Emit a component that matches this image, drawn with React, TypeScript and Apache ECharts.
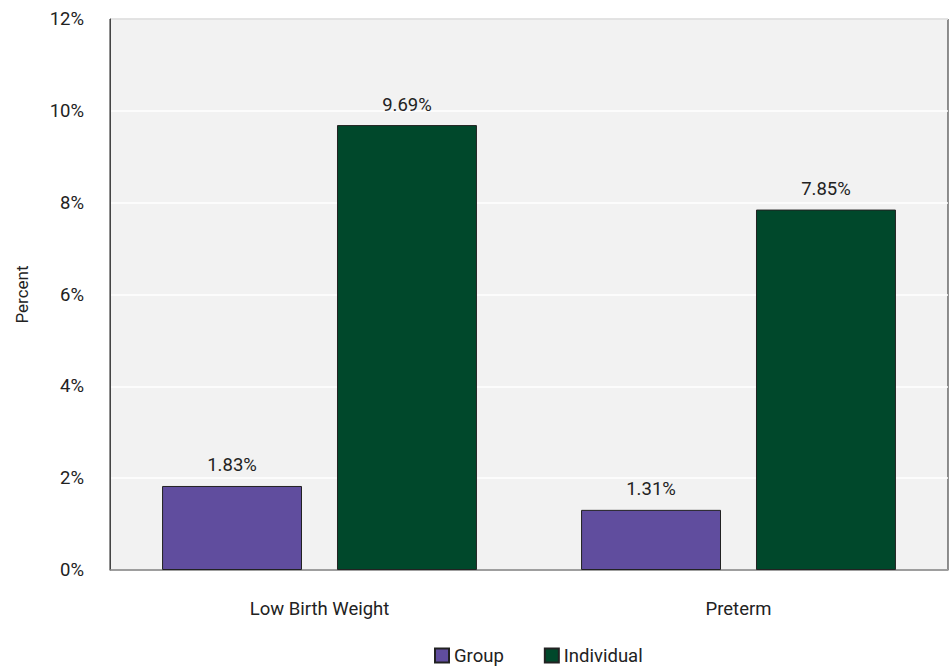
import React, { useEffect, useRef } from "react";
import * as echarts from "echarts";

const categories = ["Low Birth Weight", "Preterm"];
const groupValues = [1.83, 1.31];
const individualValues = [9.69, 7.85];
const seriesNames = ["Group", "Individual"];

const FONT = "Roboto";

export default function App() {
  const ref = useRef<HTMLDivElement>(null);
  useEffect(() => {
    if (!ref.current) return;
    const chart = echarts.init(ref.current, undefined, { renderer: "svg" });
    const labelCfg = {
      show: true,
      position: "top" as const,
      distance: 11,
      formatter: (p: any) => p.value.toFixed(2) + "%",
      fontFamily: FONT,
      fontSize: 18.5,
      color: "#222",
    };
    chart.setOption({
      animation: false,
      textStyle: { fontFamily: FONT },
      grid: {
        left: 110,
        right: 2,
        top: 19,
        bottom: 98,
        show: true,
        backgroundColor: "#f2f2f2",
        borderColor: "#222",
        borderWidth: 1,
      },
      legend: {
        bottom: -2,
        left: 429,
        itemWidth: 14,
        itemHeight: 14,
        itemGap: 40,
        textStyle: { fontFamily: FONT, fontSize: 18.5, color: "#222" },
        data: seriesNames.map((n) => ({ name: n, icon: "rect" })),
      },
      xAxis: {
        type: "category",
        data: categories,
        axisLine: { lineStyle: { color: "#888", width: 1.5 } },
        axisTick: { show: false },
        axisLabel: { fontFamily: FONT, fontSize: 18.5, color: "#222", margin: 29 },
      },
      yAxis: {
        type: "value",
        min: 0,
        max: 12,
        interval: 2,
        name: "Percent",
        nameLocation: "middle",
        nameGap: 80,
        nameTextStyle: { fontFamily: FONT, fontSize: 17, color: "#222" },
        axisLine: { show: true, lineStyle: { color: "#444" } },
        axisTick: { show: false },
        axisLabel: { fontFamily: FONT, fontSize: 18.5, color: "#222", margin: 26, formatter: "{value}%" },
        splitLine: { show: true, lineStyle: { color: "#ffffff", width: 1.5 } },
      },
      series: [
        {
          name: seriesNames[0],
          type: "bar",
          data: groupValues,
          barWidth: "33.4%",
          barGap: "25%",
          itemStyle: { color: "#604d9e", borderColor: "#222", borderWidth: 1 },
          label: labelCfg,
        },
        {
          name: seriesNames[1],
          type: "bar",
          data: individualValues,
          barWidth: "33.4%",
          itemStyle: { color: "#00482b", borderColor: "#222", borderWidth: 1 },
          label: labelCfg,
        },
      ],
    });
    return () => chart.dispose();
  }, []);
  return <div ref={ref} style={{ width: 950, height: 668, position: "absolute", left: 0, top: 0 }} />;
}
